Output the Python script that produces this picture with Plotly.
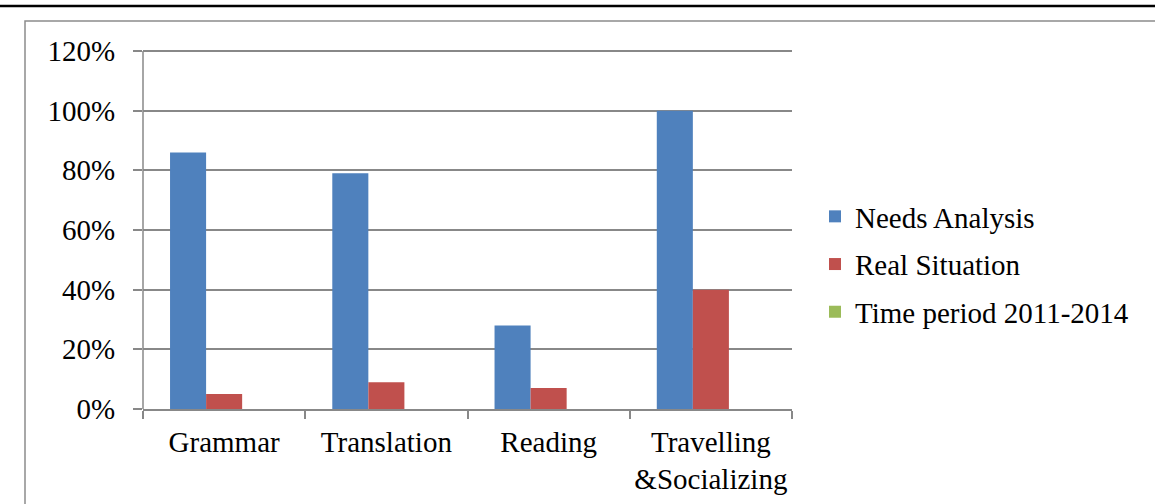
import plotly.graph_objects as go

categories = ["Grammar", "Translation", "Reading", "Travelling<br>&Socializing"]
needs_analysis = [0.86, 0.79, 0.28, 1.00]
real_situation = [0.05, 0.09, 0.07, 0.40]
time_period = [0, 0, 0, 0]

W, H = 1155, 504
L, R, T, B = 143, 792, 51, 409  # pixel box from 0% to 120%
Y_MAX = 1.2
Y_TOP = 1.21                     # small headroom so the 120% gridline is drawn
T_AXIS = B - (B - T) * Y_TOP / Y_MAX

def px_x(x):
    return (x - L) / (R - L)

def px_y(y):
    return (B - y) / (B - T_AXIS)

FONT = "Liberation Serif, Times New Roman, serif"
FS = 29
GRID = "#888888"

fig = go.Figure()
fig.add_bar(name="Needs Analysis", x=categories, y=needs_analysis,
            marker=dict(color="#4F81BD", line=dict(width=0)), legendgroup="a")
fig.add_bar(name="Real Situation", x=categories, y=real_situation,
            marker=dict(color="#C0504D", line=dict(width=0)), legendgroup="b")
fig.add_bar(name="Time period 2011-2014", x=categories, y=time_period,
            marker=dict(color="#9BBB59", line=dict(width=0)), legendgroup="c")

fig.update_layout(
    width=W, height=H,
    margin=dict(l=L, r=W - R, t=T_AXIS, b=H - B, pad=0, autoexpand=False),
    paper_bgcolor="white", plot_bgcolor="white",
    barmode="group", bargap=1 / 3, bargroupgap=0,
    font=dict(family=FONT, size=FS, color="black"),
    showlegend=True,
    legend=dict(
        x=px_x(815), y=px_y(191), xanchor="left", yanchor="top",
        font=dict(family=FONT, size=FS, color="black"),
        bgcolor="rgba(0,0,0,0)", borderwidth=0,
        tracegroupgap=7, traceorder="grouped",
    ),
    xaxis=dict(
        type="category", showgrid=False, zeroline=False,
        showline=True, linecolor=GRID, linewidth=1.5,
        ticks="outside", tickson="boundaries", ticklen=8,
        tickcolor=GRID, tickwidth=1.5, tickangle=0, automargin=False,
        tickfont=dict(family=FONT, size=FS, color="black"),
        ticklabelstandoff=6,
    ),
    yaxis=dict(
        range=[0, Y_TOP], tickvals=[0, 0.2, 0.4, 0.6, 0.8, 1.0, 1.2],
        tickformat=".0%",
        showgrid=True, gridcolor=GRID, gridwidth=1.5,
        zeroline=False, showline=False,
        ticks="outside", ticklen=9, tickcolor=GRID, tickwidth=1.5,
        automargin=False,
        tickfont=dict(family=FONT, size=FS, color="black"),
        ticklabelstandoff=12,
    ),
    shapes=[
        # value axis line, running from 0% up to the top tick
        dict(type="line", xref="paper", yref="y",
             x0=0, x1=0, y0=0, y1=Y_MAX,
             line=dict(color=GRID, width=1.5)),
        # outer chart frame
        dict(type="rect", xref="paper", yref="paper",
             x0=px_x(25), x1=px_x(1170), y0=px_y(21), y1=px_y(520),
             line=dict(color="#8c8c8c", width=1.5), fillcolor="rgba(0,0,0,0)",
             layer="below"),
        # heavy rule across the top of the page
        dict(type="line", xref="paper", yref="paper",
             x0=px_x(-5), x1=px_x(1170), y0=px_y(6), y1=px_y(6),
             line=dict(color="black", width=2.5)),
    ],
)

fig.write_html("out.html")
